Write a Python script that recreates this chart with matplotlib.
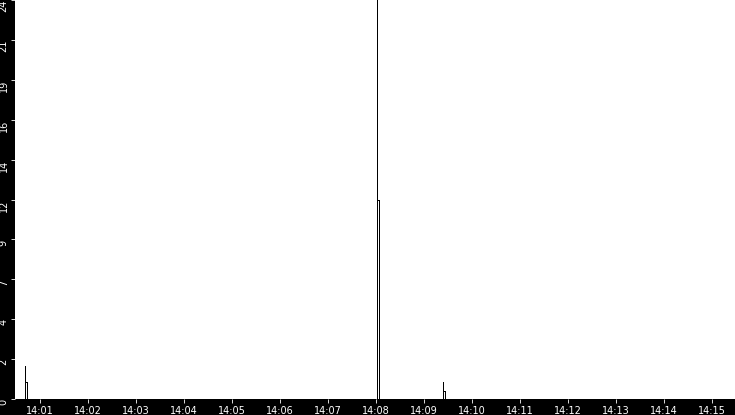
import matplotlib
matplotlib.use("Agg")
import matplotlib.pyplot as plt
import matplotlib.dates as mdates
import pandas as pd

# samples (vertical steps use repeated timestamps)
times = ["14:00:30", "14:00:41", "14:00:41", "14:00:41", "14:00:43.5", "14:00:43.5",
         "14:08:02", "14:08:02", "14:08:02", "14:08:04.5", "14:08:04.5",
         "14:09:24", "14:09:24", "14:09:24", "14:09:26.5", "14:09:26.5",
         "14:15:30"]
values = [0, 0, 2.0, 1.0, 1.0, 0,
          0, 24.0, 12.0, 12.0, 0,
          0, 1.0, 0.5, 0.5, 0,
          0]

y_ticks = [0, 2.4, 4.8, 7.2, 9.6, 12, 14.4, 16.8, 19.2, 21.6, 24]
y_labels = ["0", "2", "4", "7", "9", "12", "14", "16", "19", "21", "24"]

ts = pd.to_datetime(["2020-01-01 " + t for t in times], format="mixed")

W, H = 735, 415
fig = plt.figure(figsize=(W / 100, H / 100), dpi=100, facecolor="black")
ax = fig.add_axes([15 / W, 16 / H, 720 / W, 399 / H])
ax.set_facecolor("white")

ax.plot(ts, values, color="black", linewidth=0.5, antialiased=False)

ax.set_xlim(pd.Timestamp("2020-01-01 14:00:29"), pd.Timestamp("2020-01-01 14:15:29"))
ax.set_ylim(0, 24)

ax.xaxis.set_major_locator(mdates.MinuteLocator())
ax.xaxis.set_major_formatter(mdates.DateFormatter("%H:%M"))
ax.set_yticks(y_ticks)
ax.set_yticklabels(y_labels, rotation=90, va="top", ha="right")

ax.tick_params(axis="both", colors="white", labelcolor="white", labelsize=7,
               length=3, width=0.6, direction="out")
ax.tick_params(axis="x", pad=2)
ax.tick_params(axis="y", pad=1.5)

for s in ax.spines.values():
    s.set_visible(False)

fig.savefig("out.png", dpi=100, facecolor="black")
